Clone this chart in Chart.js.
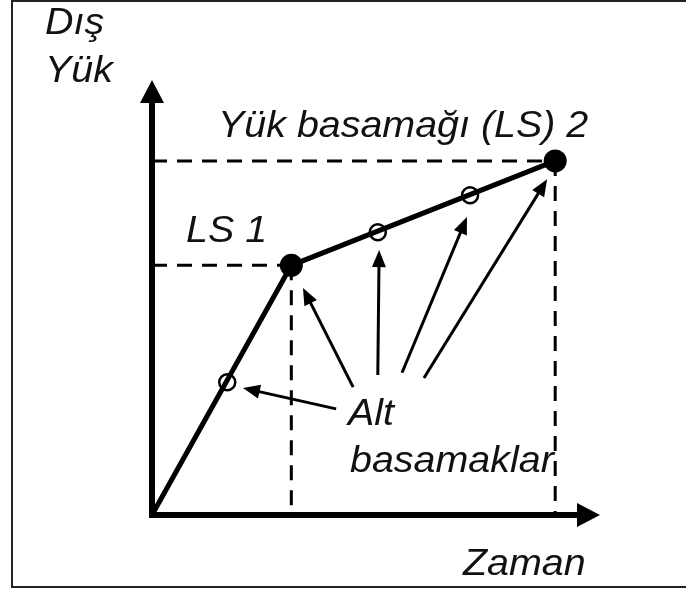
<!DOCTYPE html>
<html>
<head>
<meta charset="utf-8">
<script src="https://cdn.jsdelivr.net/npm/chart.js@4/dist/chart.umd.min.js"></script>
<style>
html,body{margin:0;padding:0;background:#fff;}
#wrap{position:relative;width:686px;height:589px;}
</style>
</head>
<body>
<div id="wrap"><canvas id="c" width="686" height="589"></canvas></div>
<script>
// Schematic data (arbitrary units: time on x, external load on y)
const loadPathX   = [0, 3.11, 9.0];
const loadPathY   = [0, 5.74, 8.14];
const loadStepX   = [3.11, 9.0];
const loadStepY   = [5.74, 8.14];
const subStepX    = [1.68, 5.04, 7.10];
const subStepY    = [3.05, 6.50, 7.35];
const arrowTailX  = [4.11, 4.49, 5.04, 5.58, 6.07];
const arrowTailY  = [2.44, 2.94, 3.22, 3.27, 3.15];
const arrowTipX   = [2.03, 3.37, 5.07, 7.03, 8.82];
const arrowTipY   = [2.92, 5.22, 6.09, 6.85, 7.72];
const axisMax     = 10;

const labels = {
  yTitle: ['Dış', 'Yük'],
  xTitle: 'Zaman',
  ls2: 'Yük basamağı (LS) 2',
  ls1: 'LS 1',
  sub: ['Alt', 'basamaklar']
};

const zip = (xs, ys) => xs.map((x, i) => ({x, y: ys[i]}));

const guideH = loadStepX.map((x, i) => [{x: 0, y: loadStepY[i]}, {x, y: loadStepY[i]}]);
const guideV = loadStepX.map((x, i) => [{x, y: loadStepY[i]}, {x, y: 0}]);

const FONT = 'italic 36.5px "Liberation Sans", Arial, sans-serif';
const STRETCH = 1.08;

function arrowHead(ctx, x1, y1, x2, y2, len, half) {
  const a = Math.atan2(y2 - y1, x2 - x1);
  ctx.beginPath();
  ctx.moveTo(x2, y2);
  ctx.lineTo(x2 - len * Math.cos(a) + half * Math.sin(a), y2 - len * Math.sin(a) - half * Math.cos(a));
  ctx.lineTo(x2 - len * Math.cos(a) - half * Math.sin(a), y2 - len * Math.sin(a) + half * Math.cos(a));
  ctx.closePath();
  ctx.fill();
}

function label(ctx, text, x, y) {
  ctx.save();
  ctx.translate(x, y);
  ctx.scale(STRETCH, 1);
  ctx.fillText(text, 0, 0);
  ctx.restore();
}

const decor = {
  id: 'decor',
  beforeDatasetsDraw(chart) {
    const ctx = chart.ctx, xs = chart.scales.x, ys = chart.scales.y;
    const ox = xs.getPixelForValue(0), oy = ys.getPixelForValue(0);
    const tx = xs.getPixelForValue(axisMax), ty = ys.getPixelForValue(axisMax);
    ctx.save();
    // frame
    ctx.strokeStyle = '#222';
    ctx.lineWidth = 2;
    ctx.strokeRect(12, 1, 700, 586);
    // axes
    ctx.fillStyle = '#000';
    ctx.strokeStyle = '#000';
    ctx.lineWidth = 6;
    ctx.lineCap = 'butt';
    ctx.beginPath();
    ctx.moveTo(ox, oy + 3);
    ctx.lineTo(ox, ty + 20);
    ctx.moveTo(ox - 3, oy);
    ctx.lineTo(tx - 20, oy);
    ctx.stroke();
    arrowHead(ctx, ox, oy, ox, ty, 23, 12);
    arrowHead(ctx, ox, oy, tx, oy, 23, 12);
    ctx.restore();
  },
  afterDatasetsDraw(chart) {
    const ctx = chart.ctx, xs = chart.scales.x, ys = chart.scales.y;
    ctx.save();
    ctx.strokeStyle = '#000';
    ctx.fillStyle = '#000';
    ctx.lineWidth = 3;
    arrowTailX.forEach((v, i) => {
      const x1 = xs.getPixelForValue(v), y1 = ys.getPixelForValue(arrowTailY[i]);
      const x2 = xs.getPixelForValue(arrowTipX[i]), y2 = ys.getPixelForValue(arrowTipY[i]);
      const a = Math.atan2(y2 - y1, x2 - x1);
      ctx.beginPath();
      ctx.moveTo(x1, y1);
      ctx.lineTo(x2 - 12 * Math.cos(a), y2 - 12 * Math.sin(a));
      ctx.stroke();
      arrowHead(ctx, x1, y1, x2, y2, 17, 7);
    });
    // texts
    ctx.fillStyle = '#111';
    ctx.font = FONT;
    ctx.textAlign = 'left';
    ctx.textBaseline = 'alphabetic';
    label(ctx, labels.yTitle[0], 45, 34);
    label(ctx, labels.yTitle[1], 45, 82);
    label(ctx, labels.ls2, 218, 137);
    label(ctx, labels.ls1, 186, 242);
    label(ctx, labels.sub[0], 348, 425);
    label(ctx, labels.sub[1], 350, 472);
    label(ctx, labels.xTitle, 463, 575);
    ctx.restore();
  }
};

new Chart(document.getElementById('c'), {
  type: 'scatter',
  data: {
    datasets: [
      {data: zip(subStepX, subStepY), showLine: false, pointRadius: 8, pointBorderWidth: 2.5,
       pointBorderColor: '#000', pointBackgroundColor: 'rgba(0,0,0,0)', order: 0},
      {data: zip(loadStepX, loadStepY), showLine: false, pointRadius: 11.5, pointBorderWidth: 0,
       pointBackgroundColor: '#000', pointBorderColor: '#000', order: 1},
      {data: zip(loadPathX, loadPathY), showLine: true, borderColor: '#000', borderWidth: 5,
       pointRadius: 0, order: 2},
      ...guideH.map(d => ({data: d, showLine: true, borderColor: '#000', borderWidth: 3,
       borderDash: [15, 10], pointRadius: 0, order: 3})),
      ...guideV.map(d => ({data: d, showLine: true, borderColor: '#000', borderWidth: 3,
       borderDash: [15, 10], pointRadius: 0, order: 3}))
    ]
  },
  options: {
    responsive: false,
    animation: false,
    layout: {padding: {left: 152, right: 86, top: 80, bottom: 74}},
    plugins: {legend: {display: false}, tooltip: {enabled: false}},
    scales: {
      x: {type: 'linear', min: 0, max: axisMax, display: false},
      y: {type: 'linear', min: 0, max: axisMax, display: false}
    }
  },
  plugins: [decor]
});
</script>
</body>
</html>
